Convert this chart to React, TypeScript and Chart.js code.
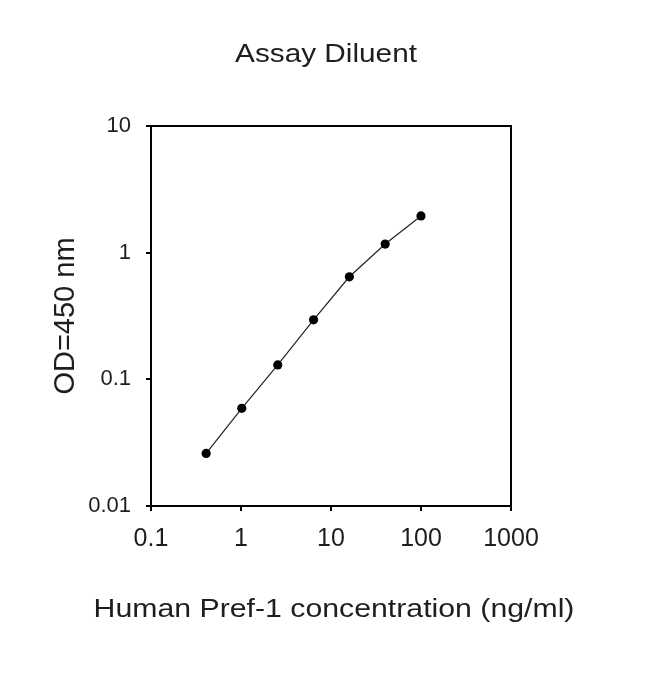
import React, { useEffect, useRef } from "react";
import { Chart, registerables } from "chart.js";

Chart.register(...registerables);

const concentrations = [0.41, 1.02, 2.56, 6.4, 16, 40, 100];
const odValues = [0.026, 0.059, 0.13, 0.295, 0.645, 1.17, 1.95];
const xTickValues = [0.1, 1, 10, 100, 1000];
const yTickValues = [0.01, 0.1, 1, 10];
const chartTitle = "Assay Diluent";
const xAxisTitle = "Human Pref-1 concentration (ng/ml)";
const yAxisTitle = "OD=450 nm";

const FONT = "'Liberation Sans', Arial, sans-serif";
const TEXT_COLOR = "#1e1e1e";

const textPlugin = {
  id: "customText",
  afterDraw(chart: any) {
    const ctx = chart.ctx as CanvasRenderingContext2D;
    const area = chart.chartArea;
    ctx.save();
    ctx.strokeStyle = "#000";
    ctx.lineWidth = 2;
    ctx.strokeRect(area.left, area.top, area.right - area.left, area.bottom - area.top);
    ctx.restore();

    ctx.save();
    ctx.fillStyle = TEXT_COLOR;
    ctx.textAlign = "center";
    ctx.textBaseline = "alphabetic";
    ctx.save();
    ctx.translate(326, 62);
    ctx.scale(1.19, 1);
    ctx.font = `25px ${FONT}`;
    ctx.fillText(chartTitle, 0, 0);
    ctx.restore();
    ctx.save();
    ctx.translate(334, 617);
    ctx.scale(1.21, 1);
    ctx.font = `25px ${FONT}`;
    ctx.fillText(xAxisTitle, 0, 0);
    ctx.restore();
    ctx.save();
    ctx.translate(73.5, 316);
    ctx.rotate(-Math.PI / 2);
    ctx.font = `29px ${FONT}`;
    ctx.fillText(yAxisTitle, 0, 0);
    ctx.restore();
    ctx.restore();
  },
};

export default function App() {
  const canvasRef = useRef<HTMLCanvasElement | null>(null);

  useEffect(() => {
    document.body.style.margin = "0";
    const canvas = canvasRef.current;
    if (!canvas) return;
    const chart = new Chart(canvas, {
      type: "scatter",
      data: {
        datasets: [
          {
            data: concentrations.map((x, i) => ({ x, y: odValues[i] })),
            showLine: true,
            borderColor: "#222",
            borderWidth: 1.2,
            pointRadius: 4.6,
            pointBackgroundColor: "#000",
            pointBorderColor: "#000",
            pointBorderWidth: 0,
            tension: 0,
          },
        ],
      },
      options: {
        responsive: false,
        animation: false,
        devicePixelRatio: 1,
        layout: { padding: { top: 126, right: 139, left: 0, bottom: 0 } },
        plugins: {
          legend: { display: false },
          tooltip: { enabled: false },
          title: { display: false },
        },
        scales: {
          x: {
            type: "logarithmic",
            min: 0.1,
            max: 1000,
            afterBuildTicks: (scale: any) => {
              scale.ticks = xTickValues.map((v) => ({ value: v }));
            },
            afterFit: (scale: any) => {
              scale.height = 171;
            },
            ticks: {
              autoSkip: false,
              maxRotation: 0,
              padding: 13,
              color: TEXT_COLOR,
              font: { family: FONT, size: 25 },
              callback: (v: any) => String(v),
            },
            grid: {
              display: true,
              drawOnChartArea: false,
              drawTicks: true,
              tickLength: 5,
              color: "#000",
              lineWidth: 2,
            },
            border: { display: true, color: "#000", width: 2 },
          },
          y: {
            type: "logarithmic",
            min: 0.01,
            max: 10,
            afterBuildTicks: (scale: any) => {
              scale.ticks = yTickValues.map((v) => ({ value: v }));
            },
            afterFit: (scale: any) => {
              scale.width = 151;
            },
            ticks: {
              autoSkip: false,
              padding: 15,
              color: TEXT_COLOR,
              font: { family: FONT, size: 22 },
              callback: (v: any) => String(v),
            },
            grid: {
              display: true,
              drawOnChartArea: false,
              drawTicks: true,
              tickLength: 5,
              color: "#000",
              lineWidth: 2,
            },
            border: { display: true, color: "#000", width: 2 },
          },
        },
      },
      plugins: [textPlugin],
    } as any);
    return () => chart.destroy();
  }, []);

  return (
    <div style={{ position: "absolute", left: 0, top: 0, width: 650, height: 677, background: "#fff" }}>
      <canvas ref={canvasRef} width={650} height={677} style={{ display: "block", width: 650, height: 677 }} />
    </div>
  );
}
